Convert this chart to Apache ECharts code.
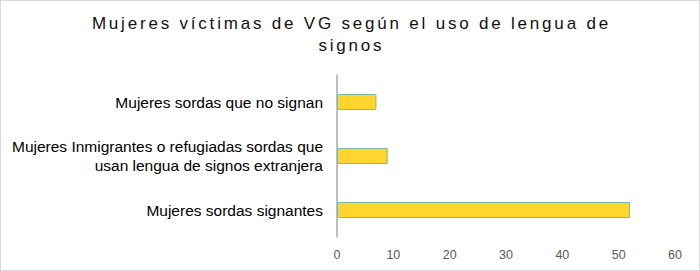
<!DOCTYPE html>
<html><head><meta charset="utf-8">
<script src="https://cdn.jsdelivr.net/npm/echarts@6/dist/echarts.min.js"></script>
<style>html,body{margin:0;padding:0;background:#fff}#c{width:700px;height:271px;box-sizing:border-box;border:1px solid #d9d9d9}</style>
</head><body><div id="c"></div>
<script>
const titleText = 'Mujeres víctimas de VG según el uso de lengua de\nsignos';
const categories = ['Mujeres sordas signantes', 'Mujeres Inmigrantes o refugiadas sordas que\nusan lengua de signos extranjera', 'Mujeres sordas que no signan'];
const values = [52, 9, 7];
const xTicks = {min: 0, max: 60, interval: 10};
const chart = echarts.init(document.getElementById('c'), null, {renderer: 'svg'});
chart.setOption({
  animation: false,
  title: {text: titleText, left: 'center', top: 6,
    textStyle: {fontFamily: 'Liberation Sans, Arial', fontSize: 17, fontWeight: 'normal', color: '#111', lineHeight: 22.5}},
  grid: {left: 336, right: 24, top: 74, bottom: 33, containLabel: false},
  xAxis: {type: 'value', min: xTicks.min, max: xTicks.max, interval: xTicks.interval,
    splitLine: {show: false}, axisLine: {show: false}, axisTick: {show: false},
    axisLabel: {color: '#595959', fontSize: 12.5, fontFamily: 'Liberation Sans, Arial', margin: 11}},
  yAxis: {type: 'category', data: categories,
    axisLine: {show: true, lineStyle: {color: '#bfbfbf', width: 2}}, axisTick: {show: false},
    axisLabel: {color: '#000', fontSize: 15.5, fontFamily: 'Liberation Sans, Arial', margin: 14, align: 'right', lineHeight: 19}},
  series: [{type: 'bar', data: values, barWidth: 16,
    itemStyle: {color: '#ffd52e', borderColor: '#7ab8a8', borderWidth: 1}}]
});
// widen the title's letter spacing as in the reference
const titleLines = titleText.split('\n');
document.querySelectorAll('#c svg text').forEach(function (t) {
  if (titleLines.indexOf(t.textContent) >= 0) {
    t.setAttribute('letter-spacing', '2.8');
    const x = parseFloat(t.getAttribute('x') || '0');
    t.setAttribute('x', x + 1.4);
  }
});
</script></body></html>
